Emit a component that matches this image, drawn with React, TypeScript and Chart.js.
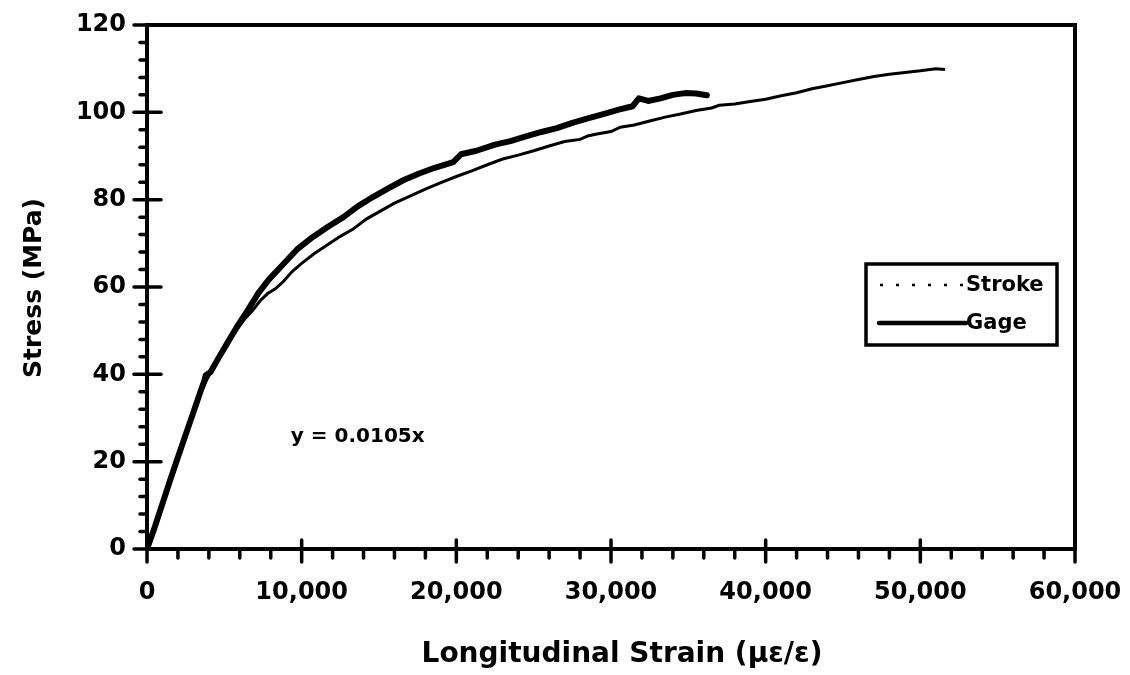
import React, { useEffect, useRef } from "react";
import { Chart, registerables } from "chart.js";

Chart.register(...registerables);

// ---- data ----
const gageStrain = [
  0, 500, 1000, 1500, 2000, 2500, 3000, 3500, 3700, 3800, 4100, 4600, 5200, 5800, 6500, 7200, 7900,
  8700, 9700, 10700, 11700, 12700, 13600, 14600, 15600, 16600, 17600, 18600, 19800, 20300, 21300,
  22500, 23500, 24500, 25500, 26500, 27500, 28500, 29500, 30500, 31400, 31800, 32400, 33200, 34000,
  34800, 35500, 36200,
];
const gageStress = [
  0, 5, 10.4, 15.8, 21, 26.2, 31.3, 36.5, 38.5, 39.8, 40.5, 43.6, 47.2, 50.8, 54.6, 58.6, 61.8,
  64.8, 68.6, 71.4, 73.8, 76, 78.4, 80.6, 82.6, 84.5, 86, 87.3, 88.6, 90.4, 91.2,
  92.6, 93.4, 94.5, 95.5, 96.4, 97.6, 98.6, 99.6, 100.6, 101.4, 103.2, 102.6, 103.2, 104,
  104.4, 104.3, 103.9,
];
const strokeStrain = [
  0, 500, 1000, 1500, 2000, 2500, 3000, 3500, 3900, 4300, 4800, 5300, 5800, 6300, 6800, 7300, 7800,
  8300, 8800, 9400, 10000, 10800, 11600, 12500, 13300, 14200, 15000, 16000, 17000, 18000, 19000,
  20000, 21000, 22000, 23000, 24000, 25000, 26000, 27000, 28000, 28500, 29000, 30000, 30600, 31500,
  32500, 33500, 34500, 35500, 36500, 37000, 38000, 39000, 40000, 41000, 42000, 43000, 44000, 45000,
  46000, 47000, 48000, 49000, 50000, 51000, 51600,
];
const strokeStress = [
  0, 4.8, 10.2, 15.5, 20.6, 26, 31, 36, 39, 41.5, 44.5, 47.5, 50.2, 52.6, 54.5, 56.8, 58.5,
  59.6, 61.2, 63.6, 65.4, 67.6, 69.5, 71.6, 73.2, 75.6, 77.2, 79.2, 80.8, 82.4, 83.9,
  85.3, 86.6, 88, 89.3, 90.2, 91.2, 92.3, 93.3, 93.8, 94.6, 95, 95.6, 96.6, 97.1,
  98, 98.9, 99.6, 100.4, 101, 101.6, 101.9, 102.5, 103, 103.8, 104.5, 105.4, 106.1, 106.8,
  107.5, 108.2, 108.7, 109.1, 109.5, 110, 109.8,
];
const seriesNames = ["Stroke", "Gage"];
const xTickValues = [0, 10000, 20000, 30000, 40000, 50000, 60000];
const yTickValues = [0, 20, 40, 60, 80, 100, 120];
const xTitle = "Longitudinal Strain (\u03bc\u03b5/\u03b5)";
const yTitle = "Stress (MPa)";
const fitText = "y = 0.0105x";
const fitAnchor = { x: 9300, y: 25.6 };

const FONT = '"DejaVu Sans", "Liberation Sans", Arial, sans-serif';

const decorPlugin = {
  id: "decor",
  afterDraw(chart: any) {
    const { ctx, chartArea: a } = chart;
    const xs = chart.scales.x;
    const ys = chart.scales.y;
    ctx.save();
    ctx.strokeStyle = "#000";
    ctx.fillStyle = "#000";
    ctx.lineCap = "round";
    // x ticks
    const xMax = xTickValues[xTickValues.length - 1];
    const xStep = xTickValues[1] - xTickValues[0];
    for (let v = 0; v <= xMax; v += xStep / 5) {
      const px = xs.getPixelForValue(v);
      const major = v % xStep === 0;
      ctx.lineWidth = 3.5;
      ctx.beginPath();
      ctx.moveTo(px, major ? a.bottom - 9 : a.bottom);
      ctx.lineTo(px, a.bottom + (major ? 13 : 9));
      ctx.stroke();
    }
    // y ticks
    const yMax = yTickValues[yTickValues.length - 1];
    const yStep = yTickValues[1] - yTickValues[0];
    for (let v = 0; v <= yMax; v += yStep / 5) {
      const py = ys.getPixelForValue(v);
      const major = Math.abs(v % yStep) < 1e-6;
      ctx.lineWidth = 3.5;
      ctx.beginPath();
      ctx.moveTo(a.left + (major ? 14 : 0), py);
      ctx.lineTo(a.left - (major ? 13 : 7), py);
      ctx.stroke();
    }
    // frame
    ctx.lineWidth = 4;
    ctx.lineCap = "butt";
    ctx.strokeRect(a.left, a.top, a.right - a.left, a.bottom - a.top);

    // axis titles
    ctx.font = `bold 28px ${FONT}`;
    ctx.textAlign = "center";
    ctx.textBaseline = "middle";
    ctx.fillText(xTitle, 622, 655);
    ctx.save();
    ctx.font = `bold 25px ${FONT}`;
    ctx.translate(34, 288);
    ctx.rotate(-Math.PI / 2);
    ctx.fillText(yTitle, 0, 0);
    ctx.restore();

    // fit equation
    ctx.font = `bold 20px ${FONT}`;
    ctx.textAlign = "left";
    ctx.fillText(fitText, xs.getPixelForValue(fitAnchor.x), ys.getPixelForValue(fitAnchor.y));

    // legend
    const bx = 866, by = 264, bw = 191, bh = 81;
    ctx.lineWidth = 3.5;
    ctx.strokeRect(bx, by, bw, bh);
    const ds = chart.data.datasets;
    const rows = [285, 323];
    ctx.font = `bold 21px ${FONT}`;
    ds.forEach((d: any, i: number) => {
      ctx.save();
      ctx.strokeStyle = d.borderColor;
      ctx.lineWidth = i === 0 ? 2.5 : 4.5;
      ctx.lineCap = i === 0 ? "butt" : "round";
      ctx.setLineDash(i === 0 ? [3, 13] : []);
      ctx.beginPath();
      ctx.moveTo(i === 0 ? 880 : 879, rows[i]);
      ctx.lineTo(966, rows[i]);
      ctx.stroke();
      ctx.restore();
      ctx.textAlign = "left";
      ctx.textBaseline = "middle";
      ctx.fillText(d.label, 966, rows[i] + 1);
    });
    ctx.restore();
  },
};

export default function App() {
  const ref = useRef<HTMLCanvasElement | null>(null);
  useEffect(() => {
    document.body.style.margin = "0";
    if (!ref.current) return;
    const chart = new Chart(ref.current, {
      type: "line",
      data: {
        datasets: [
          {
            label: seriesNames[0],
            data: strokeStrain.map((x, i) => ({ x, y: strokeStress[i] })),
            borderColor: "#000",
            borderWidth: 3,
            pointRadius: 0,
            tension: 0,
            fill: false,
          },
          {
            label: seriesNames[1],
            data: gageStrain.map((x, i) => ({ x, y: gageStress[i] })),
            borderColor: "#000",
            borderWidth: 6,
            pointRadius: 0,
            tension: 0,
            fill: false,
            borderCapStyle: "round",
            borderJoinStyle: "round",
          },
        ],
      },
      options: {
        animation: false,
        responsive: true,
        maintainAspectRatio: false,
        layout: { padding: { left: 0, top: 25, right: 55, bottom: 0 } },
        plugins: { legend: { display: false }, tooltip: { enabled: false }, title: { display: false } },
        scales: {
          x: {
            type: "linear",
            min: xTickValues[0],
            max: xTickValues[xTickValues.length - 1],
            afterBuildTicks: (s: any) => {
              s.ticks = xTickValues.map((v) => ({ value: v }));
            },
            afterFit: (s: any) => {
              s.height = 126;
              s.paddingLeft = 0;
              s.paddingRight = 0;
            },
            grid: { display: false },
            border: { display: false },
            ticks: {
              color: "#000",
              padding: 21,
              maxRotation: 0,
              font: { family: FONT, size: 24, weight: "bold" },
              callback: (v: any) => Number(v).toLocaleString("en-US"),
            },
          },
          y: {
            type: "linear",
            min: yTickValues[0],
            max: yTickValues[yTickValues.length - 1],
            afterBuildTicks: (s: any) => {
              s.ticks = yTickValues.map((v) => ({ value: v }));
            },
            afterFit: (s: any) => {
              s.width = 147;
              s.paddingTop = 0;
              s.paddingBottom = 0;
            },
            grid: { display: false },
            border: { display: false },
            ticks: {
              color: "#000",
              padding: 13,
              font: { family: FONT, size: 24, weight: "bold" },
            },
          },
        },
      },
      plugins: [decorPlugin],
    });
    return () => chart.destroy();
  }, []);
  return (
    <div style={{ position: "absolute", left: 0, top: 0, width: 1130, height: 675, background: "#fff" }}>
      <canvas ref={ref} />
    </div>
  );
}
